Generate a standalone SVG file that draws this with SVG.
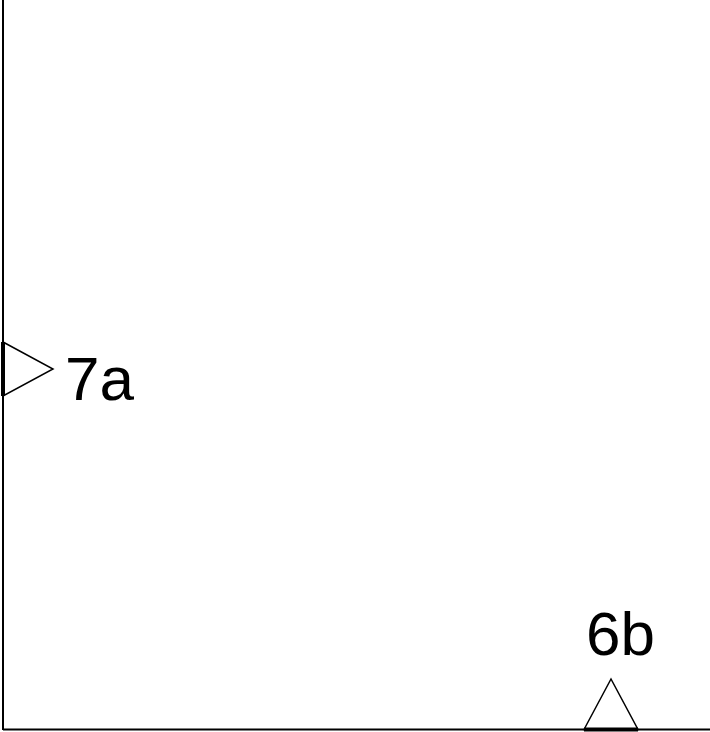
<svg xmlns="http://www.w3.org/2000/svg" width="710" height="732" viewBox="0 0 710 732">
<style>
.edge{stroke:#000;stroke-width:2;fill:none}
.tri{fill:#fff;stroke:#000;stroke-width:1.5;stroke-linejoin:miter}
.base{stroke:#000;stroke-width:4}
.lbl{font-family:"Liberation Sans",Arial,sans-serif;font-size:62px;fill:#000}
</style>
<rect width="710" height="732" fill="#fff"/>
<g id="connectors">
<line class="edge" x1="3" y1="0" x2="3" y2="730"/>
<line class="edge" x1="3" y1="729.5" x2="710" y2="729.5"/>
</g>
<g id="n7a">
<polygon class="tri" points="3,342 53,369 3,396"/>
<line class="base" x1="3" y1="342" x2="3" y2="396"/>
<text class="lbl" x="65" y="400">7a</text>
</g>
<g id="n6b">
<polygon class="tri" points="584,729.5 611,679 638,729.5"/>
<line class="base" x1="584" y1="729.5" x2="638" y2="729.5"/>
<text class="lbl" x="586" y="655">6b</text>
</g>
</svg>
